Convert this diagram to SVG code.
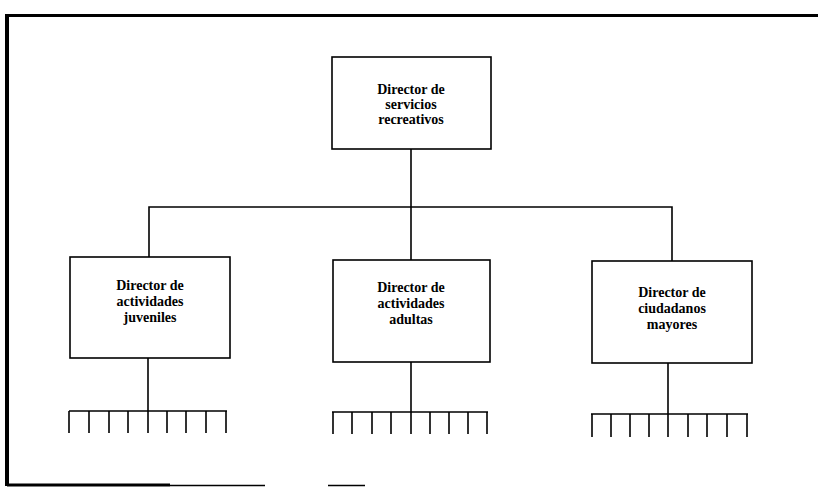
<svg xmlns="http://www.w3.org/2000/svg" width="818" height="487" viewBox="0 0 818 487">
  <style>
    .box { fill: #fff; stroke: #000; stroke-width: 1.6; }
    .lbl { font-family: "Liberation Serif", "Times New Roman", serif; font-size: 14px; font-weight: bold; fill: #000; text-anchor: middle; }
    .ln { stroke: #000; stroke-width: 1.6; fill: none; }
    .frame { stroke: #000; fill: none; }
  </style>
  <rect width="818" height="487" fill="#fff"/>

  <!-- outer frame: heavy left and top rules, broken bottom rule -->
  <g id="frame">
    <path class="frame" stroke-width="4" d="M7,486 V15"/>
    <path class="frame" stroke-width="3" d="M5,15.5 H818"/>
    <path class="frame" stroke-width="3" d="M7,485 H170"/>
    <path class="frame" stroke-width="1.5" d="M170,485.5 H265"/>
    <path class="frame" stroke-width="1.5" d="M328,485.5 H365"/>
  </g>

  <!-- connectors -->
  <g id="connectors">
    <path class="ln" d="M411,149 V207"/>
    <path class="ln" d="M149,257 V207 H672 V261"/>
    <path class="ln" d="M411,207 V260"/>
    <!-- staff rakes under each director -->
    <path class="ln" d="M148,358 V411"/>
    <path class="ln" d="M69,411 H227 M69,411 V433 M89,411 V433 M109,411 V433 M128,411 V433 M148,411 V433 M167,411 V433 M186,411 V433 M206,411 V433 M226,411 V433"/>
    <path class="ln" d="M411,362 V412"/>
    <path class="ln" d="M332,412 H488 M333,412 V434 M352,412 V434 M372,412 V434 M391,412 V434 M411,412 V434 M430,412 V434 M449,412 V434 M468,412 V434 M487,412 V434"/>
    <path class="ln" d="M668,363 V414"/>
    <path class="ln" d="M591,414 H748 M592,414 V437 M611,414 V437 M630,414 V437 M649,414 V437 M668,414 V437 M688,414 V437 M707,414 V437 M727,414 V437 M747,414 V437"/>
  </g>

  <g id="director-servicios">
    <rect class="box" x="332" y="57" width="159" height="92"/>
    <text class="lbl" x="411" y="94">Director de</text>
    <text class="lbl" x="411" y="109">servicios</text>
    <text class="lbl" x="411" y="124">recreativos</text>
  </g>

  <g id="director-juveniles">
    <rect class="box" x="70" y="257" width="160" height="101"/>
    <text class="lbl" x="150" y="290">Director de</text>
    <text class="lbl" x="150" y="306">actividades</text>
    <text class="lbl" x="150" y="322">juveniles</text>
  </g>

  <g id="director-adultas">
    <rect class="box" x="333" y="260" width="157" height="102"/>
    <text class="lbl" x="411" y="292">Director de</text>
    <text class="lbl" x="411" y="308">actividades</text>
    <text class="lbl" x="411" y="324">adultas</text>
  </g>

  <g id="director-mayores">
    <rect class="box" x="592" y="261" width="160" height="102"/>
    <text class="lbl" x="672" y="297">Director de</text>
    <text class="lbl" x="672" y="313">ciudadanos</text>
    <text class="lbl" x="672" y="329">mayores</text>
  </g>
</svg>
